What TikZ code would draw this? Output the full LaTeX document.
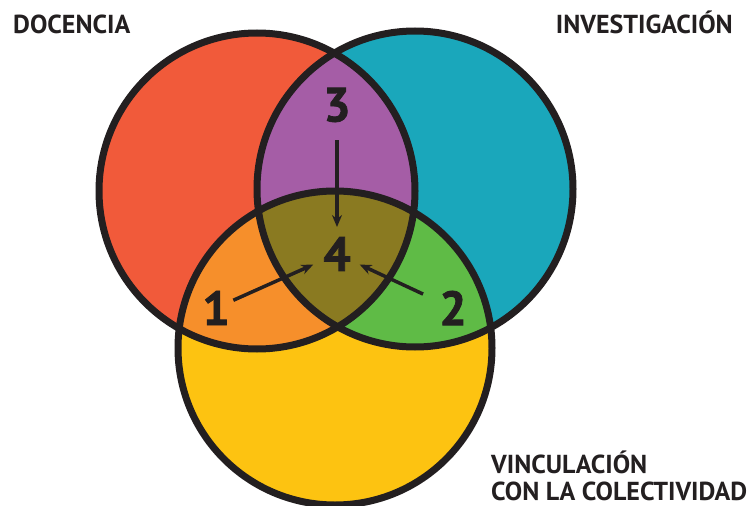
\documentclass[tikz,border=0pt]{standalone}
\usepackage{fontspec}
\setmainfont{PT Sans}
\newfontfamily\gruesa[FakeBold=1.6]{PT Sans Bold}
\usepackage{xcolor}
\usetikzlibrary{arrows.meta}

\definecolor{rojo}{HTML}{F15A3A}
\definecolor{turquesa}{HTML}{1AA7BB}
\definecolor{amarillo}{HTML}{FDC311}
\definecolor{morado}{HTML}{A55DA6}
\definecolor{naranja}{HTML}{F68F2B}
\definecolor{verde}{HTML}{5FBB46}
\definecolor{oliva}{HTML}{8A7A21}
\definecolor{tinta}{HTML}{231F20}

\tikzset{
  titulo/.style={inner sep=0pt, text=tinta, font=\fontsize{26}{28}\selectfont\bfseries},
  numero/.style={inner sep=0pt, text=tinta, font=\fontsize{48}{48}\selectfont\gruesa},
  flecha/.style={line width=3.5pt, draw=tinta, -{Stealth[length=12pt,width=10pt]}}
}

\begin{document}
\begin{tikzpicture}[x=1pt, y=-1pt]
    \useasboundingbox (0,0) rectangle (756,506);

    % Centros de los circulos
    \coordinate (cD) at (257,191);
    \coordinate (cI) at (415,189);
    \coordinate (cV) at (335,348);

    % Circulos de color
    \fill[rojo] (cD) circle (158);
    \fill[turquesa] (cI) circle (158);
    \fill[amarillo] (cV) circle (157);

    % Intersecciones
    \begin{scope}
        \clip (cD) circle (158);
        \fill[morado] (cI) circle (158);
        \fill[naranja] (cV) circle (157);
        \clip (cI) circle (158);
        \fill[oliva] (cV) circle (157);
    \end{scope}
    \begin{scope}
        \clip (cI) circle (158);
        \clip (cV) circle (157);
        \fill[verde] (cV) circle (157);
        \clip (cD) circle (158);
        \fill[oliva] (cV) circle (157);
    \end{scope}

    % Bordes
    \draw[line width=7pt, tinta] (cD) circle (158);
    \draw[line width=7pt, tinta] (cI) circle (158);
    \draw[line width=7pt, tinta] (cV) circle (157);

    % Titulos
    \node[titulo, anchor=base west] (docencia) at (13,33) {DOCENCIA};
    \node[titulo, anchor=base east] (investigacion) at (733,33) {INVESTIGACIÓN};
    \node[titulo, anchor=base west] (vinculacion) at (491,473) {VINCULACIÓN};
    \node[titulo, anchor=base west] (colectividad) at (491,500) {CON LA COLECTIVIDAD};

    % Numeros
    \node[numero] (n3) at (337,105) {3};
    \node[numero] (n4) at (337,254) {4};
    \node[numero] (n1) at (216,308) {1};
    \node[numero] (n2) at (453,308) {2};

    % Flechas hacia el centro
    \draw[flecha, shorten <=35pt, shorten >=27pt] (n3.center) -- (n4.center);
    \draw[flecha, shorten <=19pt, shorten >=26pt] (n1.center) -- (n4.center);
    \draw[flecha, shorten <=33pt, shorten >=25pt] (n2.center) -- (n4.center);
\end{tikzpicture}
\end{document}
